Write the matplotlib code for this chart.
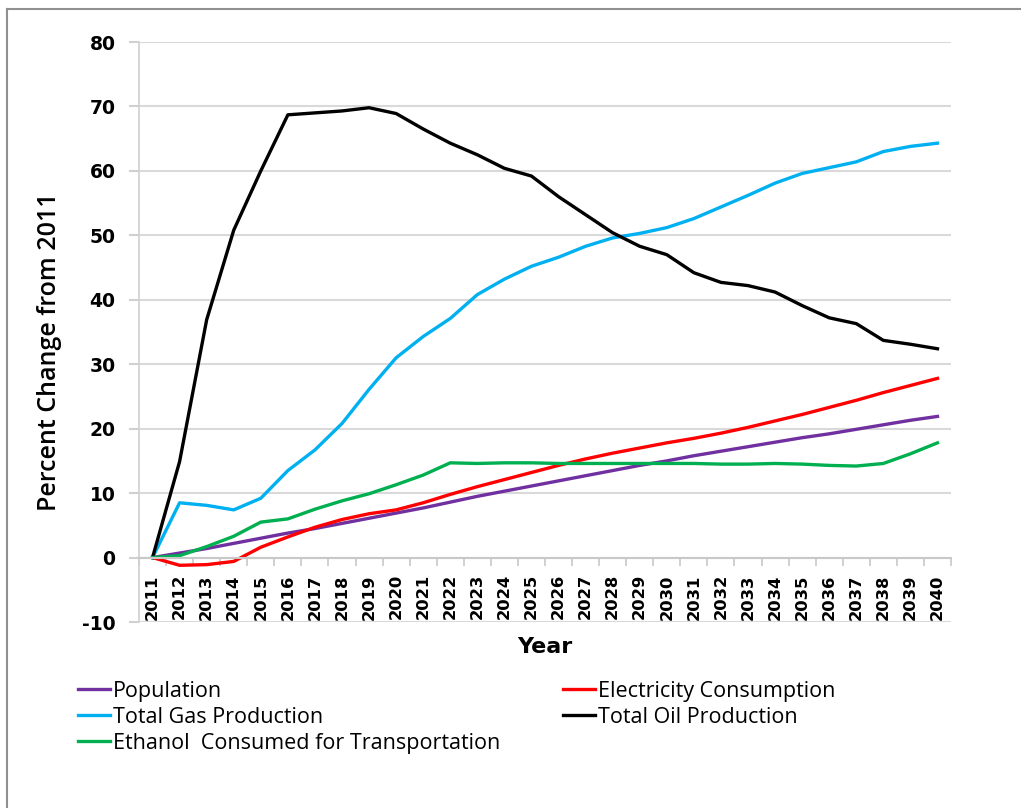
import numpy as np
import matplotlib
matplotlib.use('Agg')
import matplotlib.pyplot as plt
from matplotlib.lines import Line2D

plt.rcParams['font.family'] = ['Open Sans', 'DejaVu Sans']

years = [str(y) for y in range(2011, 2041)]

population = [0, 0.7, 1.4, 2.2, 3.0, 3.8, 4.5, 5.3, 6.1, 6.9, 7.7, 8.6, 9.5, 10.3, 11.1,
              11.9, 12.7, 13.5, 14.3, 15.0, 15.8, 16.5, 17.2, 17.9, 18.6, 19.2, 19.9, 20.6, 21.3, 21.9]
electricity = [0, -1.2, -1.1, -0.6, 1.6, 3.2, 4.7, 5.9, 6.8, 7.4, 8.5, 9.8, 11.0, 12.1, 13.2,
               14.3, 15.3, 16.2, 17.0, 17.8, 18.5, 19.3, 20.2, 21.2, 22.2, 23.3, 24.4, 25.6, 26.7, 27.8]
gas = [0, 8.5, 8.1, 7.4, 9.2, 13.5, 16.7, 20.8, 26.1, 31.0, 34.3, 37.1, 40.8, 43.2, 45.2,
       46.6, 48.3, 49.6, 50.3, 51.2, 52.6, 54.4, 56.2, 58.1, 59.6, 60.5, 61.4, 63.0, 63.8, 64.3]
oil = [0, 14.9, 36.9, 50.8, 60.0, 68.7, 69.0, 69.3, 69.8, 68.9, 66.5, 64.3, 62.5, 60.4, 59.2,
       56.0, 53.2, 50.4, 48.3, 47.0, 44.2, 42.7, 42.2, 41.2, 39.1, 37.2, 36.3, 33.7, 33.1, 32.4]
ethanol = [0, 0.3, 1.7, 3.3, 5.5, 6.0, 7.5, 8.8, 9.9, 11.3, 12.8, 14.7, 14.6, 14.7, 14.7,
           14.6, 14.6, 14.6, 14.6, 14.6, 14.6, 14.5, 14.5, 14.6, 14.5, 14.3, 14.2, 14.6, 16.1, 17.8]

fig = plt.figure(figsize=(10.21, 8.08), dpi=100)
ax = fig.add_axes([139 / 1021, 1 - 622 / 808, 812 / 1021, 580 / 808])

x = np.arange(len(years))
lw = 2.4
l_pop, = ax.plot(x, population, color='#7030A0', lw=lw, label='Population')
l_ele, = ax.plot(x, electricity, color='#FF0000', lw=lw, label='Electricity Consumption')
l_gas, = ax.plot(x, gas, color='#00B0F0', lw=lw, label='Total Gas Production')
l_oil, = ax.plot(x, oil, color='black', lw=lw, label='Total Oil Production')
l_eth, = ax.plot(x, ethanol, color='#00B050', lw=lw, label='Ethanol  Consumed for Transportation')

ax.set_xlim(-0.5, len(years) - 0.5)
ax.set_ylim(-10, 80)
ax.yaxis.grid(True, color='#d9d9d9', lw=1.5)
ax.set_axisbelow(True)

for s in ['top', 'right']:
    ax.spines[s].set_visible(False)
ax.spines['left'].set_color('#d0d0d0')
ax.spines['left'].set_linewidth(1.2)
ax.spines['bottom'].set_position(('data', 0))
ax.spines['bottom'].set_color('#c8c8c8')
ax.spines['bottom'].set_linewidth(1.5)

tick_font = dict(family='DejaVu Sans', weight='bold')
ax.set_xticks(x)
ax.set_xticklabels(years, rotation=90, fontsize=11.8, **tick_font)
ax.set_xticks(np.arange(-0.5, len(years), 1), minor=True)
ax.tick_params(axis='x', which='major', length=0, pad=12)
ax.tick_params(axis='x', which='minor', length=6, color='#c8c8c8', width=1.2, direction='out')
ax.tick_params(axis='y', length=7, color='#d0d0d0', width=1.5, pad=10)
ax.set_yticks(np.arange(-10, 81, 10))
ax.set_yticklabels([str(v) for v in range(-10, 81, 10)], fontsize=13.5, **tick_font)

ax.set_xlabel('Year', fontsize=16, family='DejaVu Sans', fontweight='bold')
ax.xaxis.set_label_coords(0.5, -0.026)
ax.set_ylabel('Percent Change from 2011', fontsize=18, fontweight='semibold')
ax.yaxis.set_label_coords(-0.095, 0.466)

fig.legend(handles=[l_pop, l_gas, l_eth, l_ele, l_oil], ncol=2, frameon=False,
           loc='upper left', bbox_to_anchor=(78 / 1021, 1 - 681 / 808),
           fontsize=15.5, handlelength=1.5, handletextpad=0.14, columnspacing=2.9,
           labelspacing=0.23, borderpad=0, borderaxespad=0)

# outer border (cropped on right and bottom)
fig.add_artist(Line2D([7 / 1021, 7 / 1021], [0, 1 - 9 / 808], transform=fig.transFigure, color='#909090', lw=1.5))
fig.add_artist(Line2D([7 / 1021, 1], [1 - 9 / 808, 1 - 9 / 808], transform=fig.transFigure, color='#909090', lw=1.5))

fig.savefig('out.png', dpi=100)
